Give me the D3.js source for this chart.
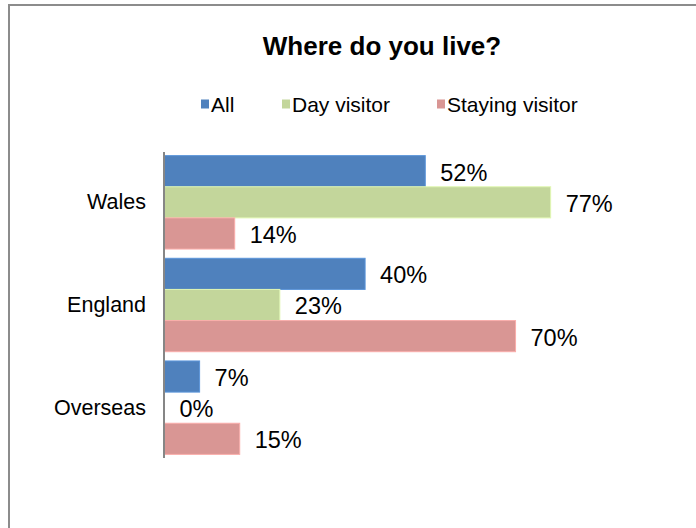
<!DOCTYPE html>
<html>
<head>
<meta charset="utf-8">
<script src="https://cdn.jsdelivr.net/npm/d3@7"></script>
<style>
  html, body { margin: 0; padding: 0; background: #fff; }
  svg { display: block; }
  text { font-family: "Liberation Sans", Arial, sans-serif; fill: #000; }
</style>
</head>
<body>
<svg id="chart" width="696" height="528"></svg>
<script>
const title = "Where do you live?";
const categories = ["Wales", "England", "Overseas"];
const seriesNames = ["All", "Day visitor", "Staying visitor"];
const seriesColors = ["#4F81BD", "#C3D69B", "#D99694"];
const allValues = [0.52, 0.40, 0.07];
const dayValues = [0.77, 0.23, 0.00];
const stayingValues = [0.14, 0.70, 0.15];

const seriesValues = [allValues, dayValues, stayingValues];
const rows = categories.map((c, i) => ({
  category: c,
  values: seriesNames.map((s, j) => ({ series: s, value: seriesValues[j][i], color: seriesColors[j] }))
}));

const svg = d3.select("#chart");

// outer frame
svg.append("rect")
  .attr("x", 9).attr("y", 5)
  .attr("width", 700).attr("height", 540)
  .attr("fill", "#fff")
  .attr("stroke", "#8c8c8c")
  .attr("stroke-width", 2);

svg.append("text")
  .attr("x", 382).attr("y", 46)
  .attr("text-anchor", "middle")
  .attr("dominant-baseline", "central")
  .style("font-weight", "bold")
  .style("font-size", "26px")
  .text(title);

const x = d3.scaleLinear().domain([0, 1]).range([164.5, 666]);
const y0 = d3.scaleBand().domain(categories).range([151, 459]).paddingInner(0.09).paddingOuter(0.045);
const y1 = d3.scaleBand().domain(seriesNames).range([0, y0.bandwidth()]);

// legend
const legendX = [201, 282, 437];
const legend = svg.append("g");
seriesNames.forEach((s, i) => {
  const g = legend.append("g").attr("transform", `translate(${legendX[i]},104)`);
  g.append("rect").attr("x", 0).attr("y", -4.5).attr("width", 8).attr("height", 9).attr("fill", seriesColors[i]);
  g.append("text").attr("x", 10).attr("y", 0).attr("dominant-baseline", "central")
    .style("font-size", "21px").text(s);
});

const groups = svg.append("g").selectAll("g")
  .data(rows).join("g")
  .attr("transform", d => `translate(0,${y0(d.category)})`);

groups.selectAll("rect")
  .data(d => d.values).join("rect")
  .attr("x", x(0))
  .attr("y", d => y1(d.series))
  .attr("width", d => x(d.value) - x(0))
  .attr("height", y1.bandwidth())
  .attr("fill", d => d.color)
  .attr("stroke", d => d.value > 0 ? d3.color(d.color).brighter(0.4) : "none")
  .attr("stroke-width", 1);

groups.selectAll("text.value")
  .data(d => d.values).join("text")
  .attr("class", "value")
  .attr("x", d => x(d.value) + 15)
  .attr("y", d => y1(d.series) + y1.bandwidth() / 2 + 1.5)
  .attr("dominant-baseline", "central")
  .style("font-size", "23.5px")
  .text(d => d3.format(".0%")(d.value));

// category axis
const axis = svg.append("g")
  .attr("transform", `translate(${x(0) - 0.5},0)`)
  .call(d3.axisLeft(y0).tickSize(0).tickPadding(18));
axis.select(".domain").attr("stroke", "#868686").attr("stroke-width", 2).attr("d", "M0,152V458");
axis.selectAll(".tick text")
  .style("font-family", "'Liberation Sans', Arial, sans-serif")
  .style("font-size", "21.5px")
  .attr("fill", "#000");
</script>
</body>
</html>
